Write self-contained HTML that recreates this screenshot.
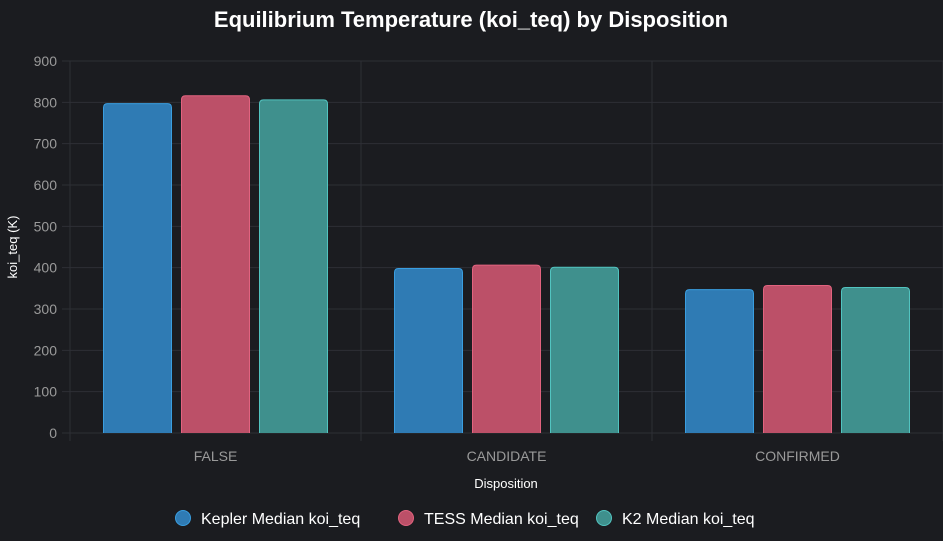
<!DOCTYPE html>
<html><head><meta charset="utf-8"><style>
html,body{margin:0;background:#1b1c20;width:943px;height:541px;overflow:hidden;font-family:"Liberation Sans",sans-serif}
svg{display:block}
svg text{font-family:"Liberation Sans",sans-serif}
</style></head><body>
<svg id="chart" width="943" height="541">
<text x="471" y="27" text-anchor="middle" fill="#fff" font-size="22" font-weight="bold">Equilibrium Temperature (koi_teq) by Disposition</text>
<g id="grid"></g><g id="bars"></g><g id="labels"></g>
<text transform="translate(17,247) rotate(-90)" text-anchor="middle" fill="#fff" font-size="13">koi_teq (K)</text>
<text x="506" y="488" text-anchor="middle" fill="#fff" font-size="13">Disposition</text>
<g id="legend"></g>
</svg>
<script>
const categories=["FALSE","CANDIDATE","CONFIRMED"];
const kepler=[797,398,347];
const tess=[816,406,357];
const k2=[806,401,352];
const yTicks=[0,100,200,300,400,500,600,700,800,900];
const seriesNames=["Kepler Median koi_teq","TESS Median koi_teq","K2 Median koi_teq"];
const NS="http://www.w3.org/2000/svg";
const X0=70,X1=943,Y0=433,Y1=61,YMAX=900;
const y=v=>Y0-(v/YMAX)*(Y0-Y1);
const bw=(X1-X0)/categories.length;
const x=i=>X0+i*bw;
function mk(t,a,p){const e=document.createElementNS(NS,t);for(const k in a)e.setAttribute(k,a[k]);document.getElementById(p).appendChild(e);return e;}
const grid="grid";
yTicks.forEach(v=>{
 const l=mk("line",{x1:X0-8,x2:X1,y1:y(v),y2:y(v),stroke:"#2e2f35","stroke-width":1},grid);
 
 
 const t=mk("text",{x:X0-13,y:y(v)+5,"text-anchor":"end",fill:"#9a9a9a","font-size":14},"labels");t.textContent=v;
 
 
});
for(let i=0;i<=categories.length;i++){
 const l=mk("line",{x1:x(i),x2:x(i),y1:Y1,y2:Y0+8,stroke:"#2e2f35","stroke-width":1},grid);
 
 
}
const series=[kepler,tess,k2];
const fills=["#2f7bb4","#bc5068","#3f908d"],strokes=["#3a9ee0","#e2637f","#52c4c0"];
const barW=69,gap=9;
categories.forEach((c,i)=>{
 const cx=x(i)+bw/2;
 const t=mk("text",{x:cx,y:461,"text-anchor":"middle",fill:"#9a9a9a","font-size":14},"labels");t.textContent=c;
 
 
 series.forEach((s,j)=>{
  const bx=cx-1.5*barW-gap+j*(barW+gap);
  const r=mk("path",{d:`M${bx+0.5},${Y0} V${y(s[i])+4} q0,-4 4,-4 H${bx+barW-4.5} q4,0 4,4 V${Y0}`,fill:fills[j],stroke:strokes[j],"stroke-width":1},"bars");
  
  
 });
});
const lx=[183,406,604];
seriesNames.forEach((n,j)=>{
 const g=mk("g",{},"legend");
 
 
 const c=document.createElementNS(NS,"circle");c.setAttribute("cx",lx[j]);c.setAttribute("cy",518);c.setAttribute("r",7.5);c.setAttribute("fill",fills[j]);c.setAttribute("stroke",strokes[j]);g.appendChild(c);
 const t=document.createElementNS(NS,"text");t.setAttribute("x",lx[j]+18);t.setAttribute("y",524);t.setAttribute("fill","#fff");t.setAttribute("font-size",16);t.textContent=n;g.appendChild(t);
});
</script>
</body></html>
